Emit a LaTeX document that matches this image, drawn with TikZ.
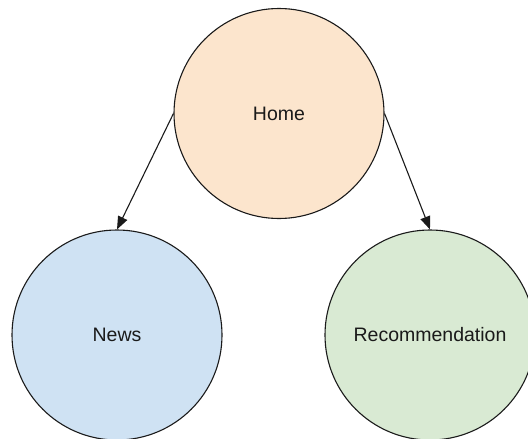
\documentclass[tikz,border=0pt]{standalone}
\usepackage{fontspec}
\setmainfont{Liberation Sans}
\usetikzlibrary{arrows.meta}
\definecolor{homefill}{HTML}{FCE5CD}
\definecolor{newsfill}{HTML}{CFE2F3}
\definecolor{recfill}{HTML}{D9EAD3}
\definecolor{inkline}{HTML}{1A1A1A}
\begin{document}
\begin{tikzpicture}[x=1pt,y=-1pt,
  page/.style={circle, draw=inkline, line width=1.1pt, minimum size=210pt, inner sep=0pt,
    font=\fontsize{19.5}{23}\selectfont, text=inkline},
  link/.style={draw=inkline, line width=1.1pt, -{Triangle[length=13pt,width=10pt]}}]
  \useasboundingbox (0,0) rectangle (528,439);
  \clip (0,0) rectangle (528,439);
  \node[page, fill=homefill] (home) at (279,113.5) {Home};
  \node[page, fill=newsfill] (news) at (117,335) {News};
  \node[page, fill=recfill] (rec) at (430,335) {Recommendation};
  \draw[link] (home.west) -- (news.north);
  \draw[link] (home.east) -- (rec.north);
\end{tikzpicture}
\end{document}
